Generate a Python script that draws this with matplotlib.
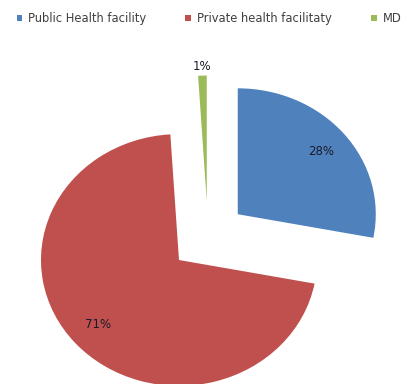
import numpy as np
import matplotlib.pyplot as plt

labels = ["Public Health facility", "Private health facilitaty", "MD"]
shares = [28, 71, 1]
colors = ["#4F81BD", "#C0504D", "#9BBB59"]
explode = [0.28, 0.28, 0.28]

fig = plt.figure(figsize=(4.15, 3.84), dpi=100)
ax = fig.add_axes([0, 0, 1, 1])

wedges, texts, pcts = ax.pie(shares, colors=colors, explode=explode,
                             startangle=90, counterclock=False,
                             autopct="%d%%", pctdistance=0.78,
                             textprops=dict(fontsize=8.5, color="#1a1a2a"))

# the tiny slice gets its label just outside the rim
w = wedges[2]
mid = np.deg2rad((w.theta1 + w.theta2) / 2)
cx, cy = w.center
pcts[2].set_position((cx + 1.07 * np.cos(mid), cy + 1.07 * np.sin(mid)))

# stretched a bit horizontally
ax.set_aspect("auto")
ax.set_xlim(-1.507, 1.5)
ax.set_ylim(-1.17, 1.88)
ax.axis("off")

fig.legend(wedges, labels, ncol=3, loc="upper left", bbox_to_anchor=(0.015, 0.995),
           frameon=False, fontsize=8.3, handlelength=0.5, handleheight=0.5,
           handletextpad=0.5, columnspacing=3.4, labelcolor="#404040")

fig.savefig("out.png", dpi=100)
